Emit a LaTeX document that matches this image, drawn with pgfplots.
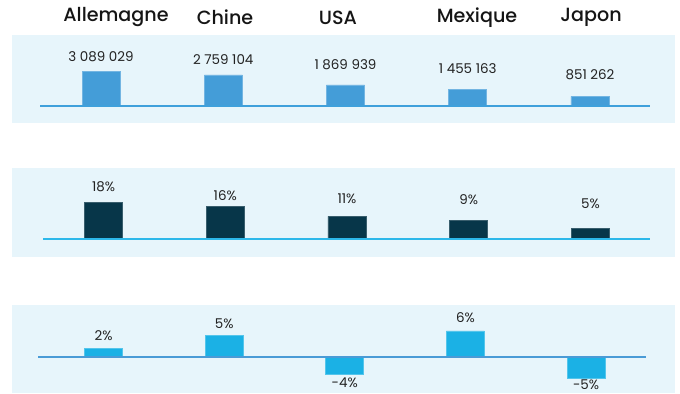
\documentclass[border=0pt]{standalone}
\usepackage{fontspec}
\setmainfont{Poppins}
\newfontfamily\catfont{Poppins Medium}
\usepackage{pgfplots}
\usepackage{pgfplotstable}
\pgfplotsset{compat=1.18}
\definecolor{panelbg}{HTML}{E7F5FB}
\definecolor{topbar}{HTML}{449DD8}
\definecolor{midbar}{HTML}{073649}
\definecolor{botbar}{HTML}{1BB1E5}
\definecolor{topline}{HTML}{3FA0DB}
\definecolor{midline}{HTML}{2DB8EA}
\definecolor{botline}{HTML}{4A9BD6}
\definecolor{labc}{HTML}{222222}
\definecolor{catc}{HTML}{151515}

\pgfplotstableread[col sep=semicolon]{
x;y;off;lab
0;3089029;14.5;3 089 029
1;2759104;15.5;2 759 104
2;1869939;20.5;1 869 939
3;1455163;21.1;1 455 163
4;851262;22;851 262
}\tabtop
\pgfplotstableread[col sep=semicolon]{
x;y;off;lab
0;18;15;18
1;16;11;16
2;11;17.4;11
3;9;20.5;9
4;5;24.7;5
}\tabmid
\pgfplotstableread[col sep=semicolon]{
x;y;off;lab
0;2;12.8;2
1;5;11.7;5
2;-4;-8.6;-4
3;6;13.4;6
4;-5;-5.8;-5
}\tabbot

\pgfplotsset{
  panel/.style={
    scale only axis, hide axis, clip=false, ybar, bar width=38bp,
    nodes near coords style={font=\fontsize{13.5}{15}\selectfont, text=labc},
  },
}

\begin{document}
\begin{tikzpicture}[x=1bp,y=1bp]
\useasboundingbox (0,0) rectangle (680,393);
\fill[panelbg] (12,270) rectangle (675,358);
\fill[panelbg] (12,136) rectangle (675,225);
\fill[panelbg] (12,0) rectangle (675,88);

\begin{scope}[every node/.style={font=\catfont\fontsize{19.2}{22}\selectfont, text=catc}]
\node at (116,375.5) {Allemagne};
\node at (225,375.5) {Chine};
\node at (338,375.5) {USA};
\node at (477,375.5) {Mexique};
\node at (591,375.5) {Japon};
\end{scope}

% top panel
\begin{axis}[panel, at={(40bp,287bp)}, anchor=south west,
  width=610bp, height=39.55bp, xmin=-0.499, xmax=4.491, ymin=0, ymax=3500000]
\addplot[fill=topbar, draw=topbar!75!white, line width=0.6bp, point meta=explicit symbolic,
  visualization depends on={\thisrow{off}\as\myoff},
  nodes near coords={\pgfplotspointmeta},
  every node near coord/.append style={anchor=center, yshift=\myoff pt}]
  table[x=x, y=y, meta=lab] {\tabtop};
\draw[topline, line width=1.6bp] (axis cs:-0.499,0) -- (axis cs:4.491,0);
\end{axis}

% middle panel
\begin{axis}[panel, at={(43bp,154bp)}, anchor=south west,
  width=607bp, height=41.1bp, xmin=-0.497, xmax=4.489, ymin=0, ymax=20]
\addplot[fill=midbar, draw=midbar!80!white, line width=0.6bp, point meta=explicit symbolic,
  visualization depends on={\thisrow{off}\as\myoff},
  nodes near coords={\pgfplotspointmeta\%},
  every node near coord/.append style={anchor=center, yshift=\myoff pt}]
  table[x=x, y=y, meta=lab] {\tabmid};
\draw[midline, line width=1.6bp] (axis cs:-0.497,0) -- (axis cs:4.489,0);
\end{axis}

% bottom panel
\begin{axis}[panel, at={(38bp,9.9bp)}, anchor=south west,
  width=608bp, height=60.9bp, xmin=-0.543, xmax=4.497, ymin=-6, ymax=8]
\addplot[fill=botbar, draw=botbar!75!white, line width=0.6bp, point meta=explicit symbolic,
  visualization depends on={\thisrow{off}\as\myoff},
  nodes near coords={\pgfplotspointmeta\%},
  every node near coord/.append style={anchor=center, yshift=\myoff pt}]
  table[x=x, y=y, meta=lab] {\tabbot};
\draw[botline, line width=1.6bp] (axis cs:-0.543,0) -- (axis cs:4.497,0);
\end{axis}
\end{tikzpicture}
\end{document}
